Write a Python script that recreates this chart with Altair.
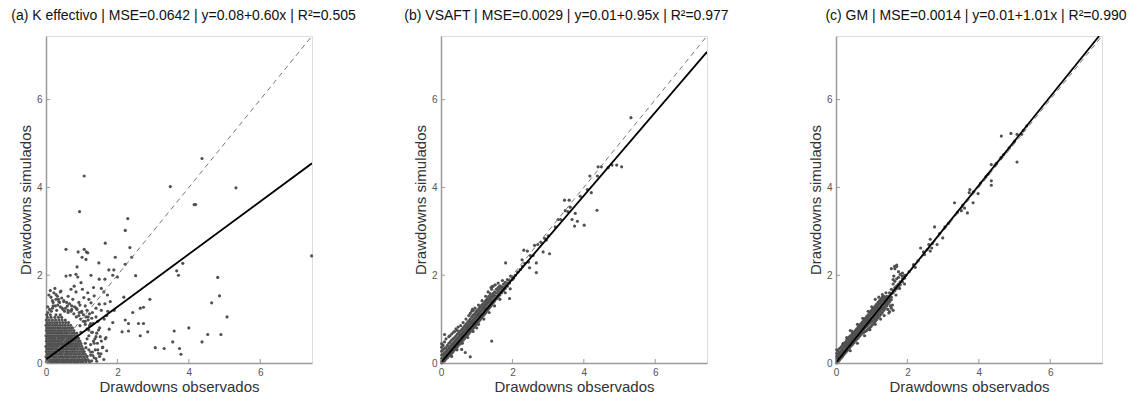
import altair as alt
import pandas as pd

FONT = "Liberation Sans"
DOMAIN = [0, 7.45]
TICKS = [0, 2, 4, 6]
DIAG = [0, 7.45]

# ---------- Panel (a) K effectivo ----------
a_out_x = [1.07, 0.94, 4.37, 3.48, 4.15, 4.19, 5.32, 7.44, 2.29, 2.22, 2.35, 1.66, 0.56, 1.07, 0.90, 1.13,
           1.01, 1.94, 2.40, 1.48, 2.22, 3.83, 3.66, 3.71, 0.87, 2.51, 4.81, 4.86, 4.64, 5.07, 4.00, 3.59,
           4.53, 4.90, 4.37, 3.55, 3.06, 3.31, 3.74, 3.78, 2.91, 2.64, 2.73, 2.18, 2.43, 2.22, 2.31, 2.59,
           2.73, 2.13, 2.31, 2.85, 2.64, 1.91, 1.17, 1.12, 1.76, 1.90]
a_out_y = [4.26, 3.45, 4.66, 4.02, 3.61, 3.61, 3.99, 2.44, 3.29, 3.02, 2.63, 2.73, 2.59, 2.59, 2.53, 2.53,
           2.41, 2.41, 2.41, 2.28, 2.25, 2.27, 2.10, 2.00, 2.19, 1.99, 1.95, 1.53, 1.37, 1.05, 0.80, 0.73,
           0.65, 0.65, 0.48, 0.48, 0.35, 0.33, 0.33, 0.20, 1.45, 1.25, 1.27, 1.50, 1.15, 0.98, 0.90, 0.90,
           0.90, 0.71, 0.73, 0.71, 0.62, 1.20, 2.51, 2.36, 2.12, 2.12]
a_mid_x = [0.28, 0.42, 0.70, 0.79, 0.98, 0.84, 1.06, 1.17, 1.26, 1.35, 1.49, 0.56, 0.68, 0.84, 0.89, 1.26,
           1.49, 1.65, 1.87, 2.00, 0.35, 0.50, 0.62, 0.75, 0.92, 1.10, 1.20, 0.45, 0.60, 0.85, 1.00, 1.15,
           1.30, 1.40, 1.55, 1.65, 1.62, 1.72, 1.55, 0.20, 0.15, 0.30, 0.05, 0.62, 1.73, 1.63, 1.87, 1.77,
           1.68, 1.59, 1.54, 1.31, 1.70, 1.80, 1.45, 1.50, 1.40, 1.55, 1.45, 1.35, 1.25, 1.40, 1.20, 1.10,
           1.30, 1.25, 1.40, 1.18, 1.10, 1.20, 1.15, 1.12, 0.52, 0.95, 1.33, 0.38, 0.72, 1.02]
a_mid_y = [1.56, 1.64, 1.68, 1.75, 1.83, 1.62, 1.49, 1.60, 1.37, 1.53, 1.34, 1.98, 2.00, 2.02, 1.96, 2.00,
           1.91, 1.91, 2.00, 1.96, 1.45, 1.40, 1.52, 1.45, 1.38, 1.30, 1.45, 1.25, 1.30, 1.25, 1.15, 1.20,
           1.15, 1.25, 1.20, 1.35, 1.62, 1.55, 1.70, 1.30, 1.18, 1.20, 1.15, 1.15, 1.18, 1.00, 0.92, 0.77,
           0.58, 0.36, 0.21, 0.17, 1.08, 1.40, 0.95, 0.80, 0.60, 0.50, 0.30, 0.45, 0.25, 0.10, 0.05, 0.08,
           0.70, 0.90, 1.05, 1.05, 0.95, 0.75, 0.55, 0.35, 1.18, 1.32, 1.72, 1.38, 1.22, 1.68]
# fringe of the dense cloud in panel (a), as "observed,simulated" pairs
a_fringe = ("1.28,0.05 1.35,0.12 1.42,0.04 1.50,0.15 1.62,0.08 1.30,0.25 1.38,0.30 1.47,0.22 1.58,0.35 "
            "1.70,0.28 1.25,0.42 1.33,0.50 1.44,0.45 1.52,0.60 1.66,0.55 1.20,0.62 1.28,0.70 1.37,0.55 "
            "1.47,0.75 1.15,0.78 1.22,0.85 1.32,0.90 1.42,0.68 1.10,0.88 1.18,0.98 1.28,1.02 1.05,0.95 "
            "1.12,1.05 1.22,1.12 0.97,1.00 1.05,1.10 0.92,1.08 1.00,1.18 0.85,1.05 0.93,1.15 0.78,1.12 "
            "0.87,1.22 0.70,1.18 0.80,1.28 0.62,1.20 0.72,1.30 0.55,1.25 0.66,1.35 0.48,1.22 0.58,1.38 "
            "0.40,1.28 0.50,1.42 0.33,1.32 0.44,1.48 0.26,1.30 0.36,1.40 0.18,1.25 0.28,1.45 0.10,1.22 "
            "0.20,1.38 0.05,1.28 0.14,1.50 0.08,1.55 0.22,1.60 0.32,1.52 0.12,1.65 0.25,1.70 0.18,1.42 "
            "0.40,1.62 1.15,0.15 1.20,0.30 1.10,0.45 1.25,0.18 0.98,0.70 0.95,0.85")
# dense core of panel (a): each row is one simulated level with its observed values
a_core = [
    (0.03, "0.01 0.06 0.12 0.17 0.24 0.30 0.35 0.42 0.48 0.53 0.60 0.66 0.71 0.78 0.84 0.90 0.97 1.04 1.12 1.22"),
    (0.08, "0.02 0.08 0.13 0.20 0.26 0.31 0.37 0.44 0.50 0.57 0.62 0.69 0.75 0.81 0.88 0.94 1.01 1.08 1.17"),
    (0.14, "0.00 0.05 0.11 0.18 0.23 0.29 0.36 0.41 0.47 0.54 0.59 0.65 0.72 0.79 0.85 0.92 0.99 1.06 1.14"),
    (0.20, "0.03 0.09 0.15 0.21 0.27 0.33 0.39 0.45 0.52 0.58 0.64 0.70 0.77 0.83 0.90 0.96 1.03 1.10"),
    (0.26, "0.01 0.07 0.13 0.19 0.25 0.31 0.38 0.43 0.49 0.56 0.61 0.68 0.74 0.80 0.87 0.94 1.01 1.07"),
    (0.32, "0.02 0.08 0.14 0.20 0.27 0.32 0.38 0.45 0.51 0.57 0.63 0.70 0.76 0.82 0.89 0.97 1.04"),
    (0.38, "0.00 0.06 0.12 0.18 0.24 0.30 0.36 0.42 0.48 0.55 0.61 0.67 0.73 0.80 0.86 0.93 1.00"),
    (0.44, "0.03 0.09 0.15 0.21 0.27 0.34 0.40 0.46 0.52 0.58 0.64 0.71 0.77 0.84 0.91 0.98"),
    (0.50, "0.01 0.07 0.13 0.19 0.25 0.31 0.37 0.44 0.50 0.56 0.62 0.69 0.75 0.82 0.89 0.95"),
    (0.56, "0.02 0.08 0.14 0.20 0.26 0.33 0.39 0.45 0.51 0.58 0.64 0.70 0.77 0.84 0.91"),
    (0.62, "0.00 0.06 0.12 0.18 0.24 0.30 0.36 0.43 0.49 0.55 0.61 0.68 0.74 0.81 0.88"),
    (0.68, "0.03 0.09 0.15 0.21 0.28 0.34 0.40 0.46 0.53 0.59 0.66 0.72 0.79 0.86"),
    (0.74, "0.01 0.07 0.13 0.19 0.25 0.32 0.38 0.44 0.51 0.57 0.64 0.71 0.78"),
    (0.80, "0.02 0.08 0.15 0.21 0.27 0.34 0.40 0.47 0.53 0.60 0.67 0.74"),
    (0.86, "0.00 0.06 0.12 0.19 0.26 0.32 0.39 0.46 0.53 0.61 0.69"),
    (0.92, "0.03 0.10 0.17 0.24 0.31 0.39 0.47 0.55 0.63"),
    (0.98, "0.01 0.09 0.18 0.27 0.36 0.45 0.54"),
    (1.04, "0.04 0.14 0.25 0.35 0.44"),
    (1.10, "0.02 0.12 0.28 0.40"),
]
a_fit_x = [0, 7.45]
a_fit_y = [0.08, 4.55]

# ---------- Panel (b) VSAFT ----------
b_out_x = [5.32, 5.06, 4.79, 4.92, 4.68, 4.49, 4.40, 4.38, 4.17, 4.21, 4.37, 4.01, 3.74, 3.82, 3.76, 3.67,
           3.46, 3.59, 3.62, 3.48, 3.28, 3.35, 3.04, 2.90, 2.86, 2.67, 2.67, 2.48, 2.32, 2.42, 2.62, 2.71,
           1.81, 1.94, 1.43, 1.42, 0.82, 2.08, 2.15, 2.22, 2.28, 2.35, 2.27, 2.50, 2.80, 3.00, 3.20, 3.55,
           3.90, 4.10, 2.95, 2.45, 1.95, 2.03, 2.58]
b_out_y = [5.59, 4.47, 4.51, 4.51, 4.45, 4.47, 4.47, 4.26, 4.26, 3.88, 3.48, 3.14, 3.12, 3.23, 3.41, 3.27,
           3.71, 3.71, 3.55, 3.47, 3.27, 3.27, 2.49, 2.84, 2.53, 2.28, 2.06, 2.17, 2.57, 2.55, 2.68, 2.70,
           2.28, 1.69, 1.74, 0.50, 0.14, 2.00, 2.07, 2.13, 2.20, 2.27, 2.35, 2.45, 2.75, 2.90, 3.10, 3.45,
           3.80, 3.95, 2.80, 2.30, 1.98, 1.93, 2.45]
b_fringe = ("0.25,0.62 0.35,0.70 0.42,0.78 0.55,0.85 0.62,0.92 0.70,1.00 0.78,1.08 0.95,1.25 1.05,1.32 "
            "1.15,1.42 1.25,1.52 1.32,1.62 1.40,1.72 1.52,1.78 1.60,1.82 1.72,1.88 0.48,0.82 0.88,1.22 "
            "1.00,1.18 0.30,0.15 0.45,0.30 0.60,0.45 0.75,0.58 0.90,0.72 1.05,0.88 1.20,1.00 1.35,1.15 "
            "1.50,1.30 1.65,1.45 1.80,1.60 1.00,0.80 0.68,0.24")
# band of panel (b): each row is one observed level with its simulated values
b_core = [
    (0.02, "0.00 0.04 0.10 0.18 0.27 0.36 0.44"), (0.06, "0.02 0.06 0.12 0.20 0.30 0.40"),
    (0.10, "0.05 0.09 0.15 0.23 0.33 0.48 0.65"), (0.14, "0.09 0.13 0.19 0.26 0.35 0.55"),
    (0.18, "0.12 0.17 0.23 0.30 0.40"), (0.22, "0.16 0.21 0.27 0.34 0.45 0.60"),
    (0.26, "0.19 0.25 0.31 0.38 0.48"), (0.30, "0.22 0.28 0.34 0.42 0.52 0.66"),
    (0.34, "0.26 0.32 0.38 0.45 0.55"), (0.38, "0.30 0.36 0.42 0.49 0.58 0.72"),
    (0.42, "0.33 0.39 0.45 0.52 0.62"), (0.46, "0.37 0.43 0.49 0.56 0.66 0.74"),
    (0.50, "0.41 0.47 0.53 0.60 0.69"), (0.54, "0.44 0.50 0.57 0.64 0.73"),
    (0.58, "0.48 0.54 0.60 0.67 0.76 0.31"), (0.62, "0.52 0.58 0.64 0.71 0.80"),
    (0.66, "0.56 0.62 0.68 0.75 0.84"), (0.70, "0.60 0.66 0.72 0.79 0.88"),
    (0.74, "0.63 0.69 0.76 0.83 0.92"), (0.78, "0.67 0.73 0.80 0.87 0.96"),
    (0.82, "0.71 0.77 0.84 0.91 1.00 1.13"), (0.86, "0.75 0.81 0.88 0.95 1.05 1.18"),
    (0.90, "0.79 0.85 0.92 0.99 1.09 1.20"), (0.94, "0.83 0.89 0.96 1.03 1.12"),
    (0.98, "0.87 0.93 1.00 1.07 1.16"), (1.02, "0.91 0.97 1.04 1.11 1.20"),
    (1.06, "0.95 1.01 1.08 1.15 1.24"), (1.10, "0.99 1.05 1.12 1.19 1.28"),
    (1.14, "1.03 1.09 1.16 1.23 1.32"), (1.18, "1.07 1.13 1.20 1.27 1.35"),
    (1.22, "1.11 1.17 1.24 1.31 1.39"), (1.26, "1.15 1.21 1.28 1.35 1.43"),
    (1.30, "1.20 1.26 1.32 1.39 1.47"), (1.34, "1.24 1.30 1.36 1.43 1.52"),
    (1.38, "1.28 1.34 1.40 1.48 1.58"), (1.42, "1.32 1.38 1.45 1.53 1.68"),
    (1.46, "1.37 1.43 1.50 1.58 1.75"), (1.50, "1.41 1.47 1.54 1.62"),
    (1.55, "1.46 1.52 1.60 1.68"), (1.60, "1.50 1.57 1.65 1.72"),
    (1.65, "1.55 1.62 1.70 1.76"), (1.70, "1.60 1.67 1.74"),
    (1.75, "1.65 1.72 1.80"), (1.80, "1.70 1.77 1.84"),
    (1.86, "1.75 1.82 1.90"), (1.92, "1.47 1.82 1.88"), (2.00, "1.90 1.96"),
]
b_fit_x = [0, 7.45]
b_fit_y = [0.01, 7.09]

# ---------- Panel (c) GM ----------
c_out_x = [4.63, 4.90, 5.07, 5.20, 5.34, 5.07, 4.62, 4.35, 4.49, 4.35, 4.35, 4.26, 3.98, 3.84, 3.75, 3.73,
           3.32, 3.51, 3.60, 3.68, 2.76, 2.99, 2.64, 2.45, 2.37, 2.83, 2.64, 2.17, 2.22, 1.64, 1.70, 1.55,
           1.95, 1.90, 2.05, 2.30, 2.55, 2.70, 2.90, 3.05, 3.15, 3.40, 3.55, 3.85, 4.05, 4.20, 4.45, 4.70,
           4.85, 5.00, 5.25, 2.48, 2.60, 2.68, 1.45, 1.50, 1.55, 1.60, 1.52, 0.40]
c_out_y = [5.17, 5.23, 5.21, 5.21, 5.40, 4.58, 4.68, 4.52, 4.55, 4.15, 4.05, 4.30, 3.86, 3.65, 3.95, 3.88,
           3.65, 3.47, 3.53, 3.42, 3.10, 2.85, 2.82, 2.53, 2.62, 2.70, 2.55, 2.24, 2.18, 2.20, 2.23, 2.15,
           2.00, 1.97, 2.08, 2.33, 2.58, 2.72, 2.95, 3.10, 3.18, 3.43, 3.60, 3.90, 4.10, 4.25, 4.50, 4.75,
           4.90, 5.05, 5.30, 2.47, 2.70, 2.62, 1.22, 1.17, 1.25, 1.20, 1.30, 0.74]
c_fringe = ("0.20,0.45 0.30,0.58 0.45,0.72 0.60,0.88 0.75,1.02 0.90,1.18 1.00,1.28 1.20,1.50 1.30,1.56 "
            "1.40,1.60 0.40,0.28 0.60,0.45 0.80,0.62 0.95,0.76 1.10,0.88 1.25,1.00 1.35,1.08 1.48,1.14 "
            "1.58,1.32 1.68,1.55 1.78,1.70 1.85,1.98 1.75,2.08 1.62,1.98")
c_core = [
    (0.02, "0.00 0.04 0.09 0.15 0.22 0.30"), (0.06, "0.03 0.08 0.13 0.20 0.28"),
    (0.10, "0.07 0.12 0.17 0.24 0.33"), (0.14, "0.11 0.16 0.21 0.27 0.36"),
    (0.18, "0.15 0.20 0.25 0.31 0.40"), (0.22, "0.19 0.24 0.29 0.35 0.44"),
    (0.26, "0.23 0.28 0.33 0.39 0.47"), (0.30, "0.27 0.32 0.37 0.43 0.52"),
    (0.34, "0.31 0.36 0.41 0.47 0.56"), (0.38, "0.35 0.40 0.45 0.51 0.60"),
    (0.42, "0.39 0.44 0.49 0.55 0.63"), (0.46, "0.42 0.48 0.53 0.59 0.67"),
    (0.50, "0.46 0.52 0.57 0.63 0.70"), (0.54, "0.50 0.56 0.61 0.67 0.74"),
    (0.58, "0.54 0.60 0.65 0.71 0.78"), (0.62, "0.57 0.64 0.69 0.75 0.82"),
    (0.66, "0.61 0.67 0.73 0.79 0.86"), (0.70, "0.65 0.71 0.77 0.83 0.90"),
    (0.74, "0.68 0.75 0.81 0.87 0.94"), (0.78, "0.70 0.78 0.84 0.91 0.98"),
    (0.82, "0.72 0.81 0.88 0.95 1.02"), (0.86, "0.74 0.84 0.91 0.99 1.06"),
    (0.90, "0.77 0.87 0.95 1.03 1.10"), (0.94, "0.80 0.90 0.99 1.07 1.15"),
    (0.98, "0.83 0.93 1.02 1.11 1.19"), (1.02, "0.87 0.96 1.06 1.14 1.22"),
    (1.06, "0.91 1.00 1.10 1.18 1.26"), (1.10, "0.95 1.04 1.13 1.22 1.30 1.45"),
    (1.14, "0.99 1.08 1.17 1.26 1.34"), (1.18, "1.03 1.12 1.21 1.30 1.38"),
    (1.22, "1.07 1.16 1.25 1.34 1.42"), (1.26, "1.11 1.20 1.29 1.38 1.46"),
    (1.30, "1.15 1.24 1.33 1.42 1.50"), (1.34, "1.20 1.28 1.37 1.46 1.52"),
    (1.38, "1.25 1.33 1.41 1.49"), (1.42, "1.30 1.37 1.45 1.52"),
    (1.46, "1.35 1.41 1.49"), (1.50, "1.39 1.45 1.53 1.60"),
    (1.55, "1.44 1.50 1.58 1.68"), (1.60, "1.60 1.66 1.80 1.90"),
    (1.65, "1.65 1.72 1.86 2.15"), (1.70, "1.70 1.76 1.92 2.20"),
    (1.75, "1.74 1.80 1.95"), (1.80, "1.78 1.85 2.02"),
    (1.86, "1.85 1.92 2.05"), (1.92, "1.80 1.93 2.00"),
]
c_fit_x = [0, 7.37]
c_fit_y = [0.01, 7.45]

titles = [
    "(a) K effectivo | MSE=0.0642 | y=0.08+0.60x | R²=0.505",
    "(b) VSAFT | MSE=0.0029 | y=0.01+0.95x | R²=0.977",
    "(c) GM | MSE=0.0014 | y=0.01+1.01x | R²=0.990",
]
title_dx = [4.5, -7.5, 7]


def build_points(out_x, out_y, core, core_is_rows_of_y, pairs, extra_x=None, extra_y=None):
    xs, ys = list(out_x), list(out_y)
    if extra_x:
        xs += extra_x
        ys += extra_y
    for p in pairs.split():
        px, py = p.split(",")
        xs.append(float(px)); ys.append(float(py))
    for level, vals in core:
        for v in vals.split():
            if core_is_rows_of_y:
                xs.append(float(v)); ys.append(level)
            else:
                xs.append(level); ys.append(float(v))
    return pd.DataFrame({"obs": xs, "sim": ys})


def panel(df, fx, fy, title, dx):
    xs = alt.Scale(domain=DOMAIN, nice=False, zero=False)
    ys = alt.Scale(domain=DOMAIN, nice=False, zero=False)
    common = dict(values=TICKS, ticks=False, grid=False, domainColor="#9a9a9a", domainWidth=1.5,
                  labelColor="#555555", labelFontSize=10, labelPadding=4, labelFlush=False,
                  titleFontSize=15, titleFontWeight="normal", titleColor="#333333",
                  labelFont=FONT, titleFont=FONT, format="d")
    xaxis = alt.Axis(titlePadding=2, **common)
    yaxis = alt.Axis(titlePadding=3, **common)
    pts = alt.Chart(df).mark_circle(size=10, color="#505050", opacity=1).encode(
        x=alt.X("obs:Q", scale=xs, axis=xaxis, title="Drawdowns observados"),
        y=alt.Y("sim:Q", scale=ys, axis=yaxis, title="Drawdowns simulados"),
    )
    diag = alt.Chart(pd.DataFrame({"obs": DIAG, "sim": DIAG})).mark_line(
        color="#777777", strokeWidth=1, strokeDash=[5, 4], clip=True
    ).encode(x="obs:Q", y="sim:Q")
    fit = alt.Chart(pd.DataFrame({"obs": fx, "sim": fy})).mark_line(
        color="black", strokeWidth=1.8, clip=True
    ).encode(x="obs:Q", y="sim:Q")
    tdf = pd.DataFrame({"t": TICKS})
    xt = alt.Chart(tdf).mark_rule(color="#9a9a9a", strokeWidth=1).encode(
        x="t:Q", y=alt.value(327), y2=alt.value(323))
    yt = alt.Chart(tdf).mark_rule(color="#9a9a9a", strokeWidth=1).encode(
        y="t:Q", x=alt.value(0), x2=alt.value(4))
    return alt.layer(pts, diag, fit, xt, yt).properties(
        width=266, height=327,
        title=alt.TitleParams(title, fontSize=14, fontWeight="normal", font=FONT, color="#111111",
                              anchor="middle", frame="group", offset=13, dx=dx),
    )


df_a = build_points(a_out_x, a_out_y, a_core, True, a_fringe, a_mid_x, a_mid_y)
df_b = build_points(b_out_x, b_out_y, b_core, False, b_fringe)
df_c = build_points(c_out_x, c_out_y, c_core, False, c_fringe)

chart = alt.hconcat(
    panel(df_a, a_fit_x, a_fit_y, titles[0], title_dx[0]),
    panel(df_b, b_fit_x, b_fit_y, titles[1], title_dx[1]),
    panel(df_c, c_fit_x, c_fit_y, titles[2], title_dx[2]),
    spacing=129, bounds="flush",
).properties(
    padding={"left": 10, "top": 8, "right": 0, "bottom": 0},
    background="white",
).configure_view(stroke=None).configure(font=FONT)

chart.save("out.html", embed_options={"renderer": "svg", "actions": False})
